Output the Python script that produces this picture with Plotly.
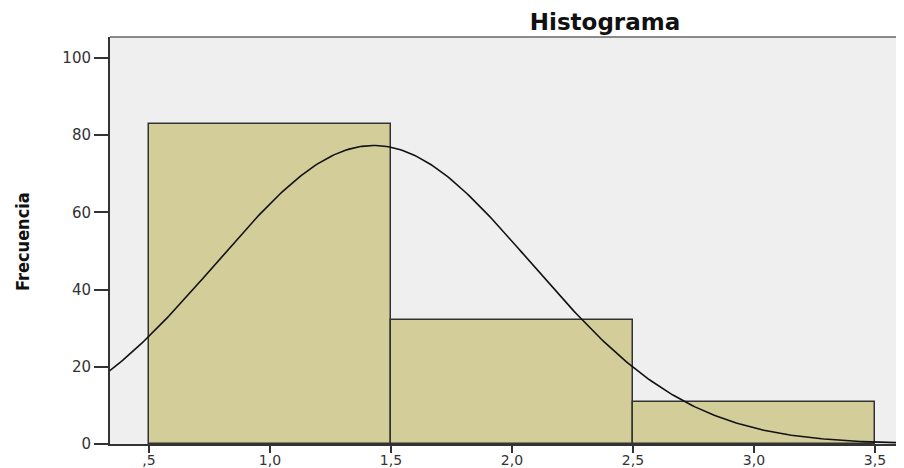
import numpy as np
import plotly.graph_objs as go

# histogram bins (centres) and frequencies
bin_centers = [1.0, 2.0, 3.0]
frequencies = [83, 32, 11]
bin_width = 1.0

x_tick_values = [0.5, 1.0, 1.5, 2.0, 2.5, 3.0, 3.5]
x_tick_labels = [",5", "1,0", "1,5", "2,0", "2,5", "3,0", "3,5"]
y_tick_values = [0, 20, 40, 60, 80, 100]

# normal curve fitted to the binned data (as SPSS draws it)
counts = np.array(frequencies, dtype=float)
centers = np.array(bin_centers)
n = counts.sum()
mean = (counts * centers).sum() / n
sd = np.sqrt((counts * (centers - mean) ** 2).sum() / (n - 1))
curve_x = np.linspace(0.3, 3.7, 300)
curve_y = n * bin_width / (sd * np.sqrt(2 * np.pi)) * np.exp(-0.5 * ((curve_x - mean) / sd) ** 2)

fig = go.Figure()

fig.add_trace(go.Bar(x=bin_centers, y=frequencies, width=bin_width,
                     marker=dict(color="#d3cd99", line=dict(color="#333333", width=1.5)),
                     hoverinfo="x+y"))

fig.add_trace(go.Scatter(x=curve_x, y=curve_y, mode="lines",
                         line=dict(color="#111111", width=1.6), hoverinfo="skip"))

# the page body has an 8px margin, so the margins below are shifted by 8px
fig.update_layout(
    width=904, height=468,
    margin=dict(l=102, r=0, t=29, b=32),
    paper_bgcolor="white", plot_bgcolor="#efefef",
    showlegend=False, bargap=0,
    title=dict(text="<b>Histograma</b>", x=597 / 904, xanchor="center", y=1 - 14 / 468, yanchor="middle",
               font=dict(family="DejaVu Sans", size=23, color="#111111")),
    font=dict(family="DejaVu Sans", size=15, color="#333333"),
)

fig.update_xaxes(range=[0.339, 3.653], tickvals=x_tick_values, ticktext=x_tick_labels,
                 ticks="outside", ticklen=7, tickwidth=2, tickcolor="#333333",
                 ticklabelstandoff=-5, tickfont=dict(size=14),
                 showgrid=False, zeroline=False, showline=True, linecolor="#333333", linewidth=2,
                 automargin=False)
fig.update_yaxes(range=[0, 105.4], tickvals=y_tick_values,
                 ticks="outside", ticklen=14, tickwidth=2, tickcolor="#333333",
                 showgrid=False, zeroline=False, showline=True, linecolor="#333333", linewidth=2,
                 automargin=False)

# y axis title, placed by hand
fig.add_annotation(text="<b>Frecuencia</b>", xref="paper", yref="paper", x=-0.1085, y=0.499,
                   textangle=-90, showarrow=False, xanchor="center", yanchor="middle",
                   font=dict(family="DejaVu Sans Condensed", size=18, color="#111111"))

# top border of the plot frame
fig.add_shape(type="line", xref="paper", yref="paper", x0=0, x1=1, y0=1, y1=1,
              line=dict(color="#666666", width=1.5))

fig.write_html("out.html")
